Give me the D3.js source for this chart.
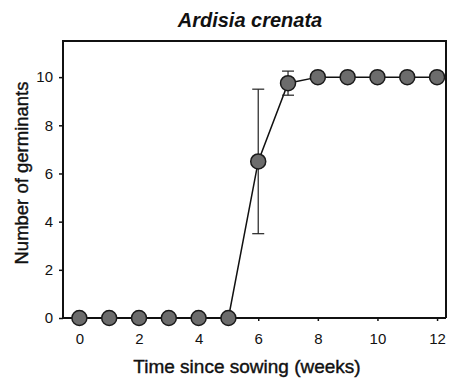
<!DOCTYPE html>
<html>
<head>
<meta charset="utf-8">
<script src="https://cdn.jsdelivr.net/npm/d3@7/dist/d3.min.js"></script>
<style>
  html, body { margin: 0; padding: 0; background: #fff; }
  svg { display: block; font-family: "Liberation Sans", Arial, Helvetica, sans-serif; }
</style>
</head>
<body>
<svg id="chart" width="453" height="384"></svg>
<script>
// Germination of Ardisia crenata seeds, weekly counts
const weeks = [0, 1, 2, 3, 4, 5, 6, 7, 8, 9, 10, 11, 12];
const germinants = [0, 0, 0, 0, 0, 0, 6.5, 9.75, 10, 10, 10, 10, 10];
const errLow = [null, null, null, null, null, null, 3.5, 9.25, null, null, null, null, null];
const errHigh = [null, null, null, null, null, null, 9.5, 10.25, null, null, null, null, null];
const xTicks = [0, 2, 4, 6, 8, 10, 12];
const yTicks = [0, 2, 4, 6, 8, 10];

const svg = d3.select("#chart");
const plotLeft = 63, plotRight = 446, plotTop = 41, plotBottom = 318;

const x = d3.scaleLinear().domain([-0.55, 12.3]).range([plotLeft, plotRight]);
const y = d3.scaleLinear().domain([0, 11.5]).range([plotBottom, plotTop]);

// Frame: left, top and right edges
svg.append("path")
  .attr("d", `M${plotLeft},${plotBottom}V${plotTop}H${plotRight}V${plotBottom}`)
  .attr("fill", "none").attr("stroke", "#111").attr("stroke-width", 2);

// X axis along zero
const xAxis = svg.append("g").attr("transform", `translate(0,${plotBottom})`)
  .call(d3.axisBottom(x).tickValues(xTicks).tickSize(3).tickPadding(12).tickSizeOuter(0));
xAxis.select(".domain").attr("stroke", "#111").attr("stroke-width", 2)
  .attr("d", `M${plotLeft},0H${plotRight}`);
xAxis.selectAll(".tick line").attr("stroke", "#111").attr("stroke-width", 1.5);
xAxis.selectAll(".tick text").attr("font-size", 15).attr("fill", "#111")
  .attr("font-family", "Liberation Sans, Arial, sans-serif");

// Y axis
const yAxis = svg.append("g").attr("transform", `translate(${plotLeft},0)`)
  .call(d3.axisLeft(y).tickValues(yTicks).tickSize(4).tickPadding(6).tickSizeOuter(0));
yAxis.select(".domain").remove();
yAxis.selectAll(".tick line").attr("stroke", "#111").attr("stroke-width", 1.5);
yAxis.selectAll(".tick text").attr("font-size", 15).attr("fill", "#111")
  .attr("font-family", "Liberation Sans, Arial, sans-serif");

// Connecting line
const line = d3.line().x((d, i) => x(weeks[i])).y(d => y(d));
svg.append("path").datum(germinants)
  .attr("d", line).attr("fill", "none").attr("stroke", "#111").attr("stroke-width", 1.5);

// Error bars
const errIdx = weeks.map((w, i) => i).filter(i => errLow[i] !== null);
const eb = svg.append("g").attr("stroke", "#222").attr("stroke-width", 1.2);
errIdx.forEach(i => {
  const cx = x(weeks[i]);
  const capW = 6;
  eb.append("line").attr("x1", cx).attr("x2", cx).attr("y1", y(errLow[i])).attr("y2", y(errHigh[i]));
  eb.append("line").attr("x1", cx - capW).attr("x2", cx + capW).attr("y1", y(errLow[i])).attr("y2", y(errLow[i]));
  eb.append("line").attr("x1", cx - capW).attr("x2", cx + capW).attr("y1", y(errHigh[i])).attr("y2", y(errHigh[i]));
});

// Markers
svg.append("g").selectAll("circle").data(germinants).join("circle")
  .attr("cx", (d, i) => x(weeks[i])).attr("cy", d => y(d)).attr("r", 7.5)
  .attr("fill", "#6c6c6c").attr("stroke", "#1a1a1a").attr("stroke-width", 1.5);

// Title
svg.append("text").attr("x", 250).attr("y", 27).attr("text-anchor", "middle")
  .attr("font-size", 20).attr("font-style", "italic").attr("font-weight", "bold").attr("fill", "#111")
  .text("Ardisia crenata");

// Axis titles, slightly heavier than regular weight
svg.append("text").attr("x", 247).attr("y", 373).attr("text-anchor", "middle")
  .attr("font-size", 19).attr("fill", "#111").attr("stroke", "#111").attr("stroke-width", 0.4)
  .text("Time since sowing (weeks)");
svg.append("text").attr("transform", "translate(28,173) rotate(-90)").attr("text-anchor", "middle")
  .attr("font-size", 18.5).attr("fill", "#111").attr("stroke", "#111").attr("stroke-width", 0.4)
  .text("Number of germinants");
</script>
</body>
</html>
